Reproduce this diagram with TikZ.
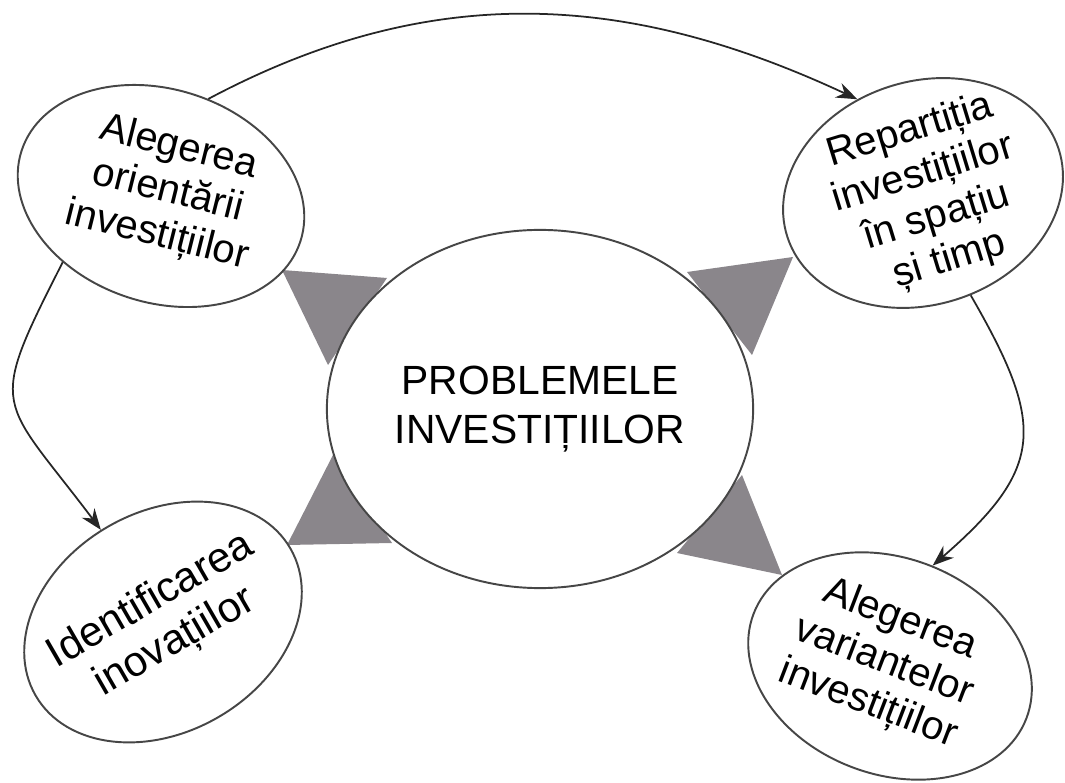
\documentclass[tikz,border=0pt]{standalone}
\usepackage{fontspec}
\setmainfont{Liberation Sans}
\usetikzlibrary{shapes.geometric, arrows.meta}
\definecolor{wedgegray}{RGB}{138,134,139}
\definecolor{rimgray}{RGB}{70,70,70}

\begin{document}
\begin{tikzpicture}[x=0.01cm, y=-0.01cm,
    bubble/.style={ellipse, draw=rimgray, line width=0.55pt, fill=white, inner sep=0pt},
    bubbletext/.style={align=center, inner sep=0pt, font=\fontsize{11.4pt}{12.8pt}\selectfont},
    link/.style={line width=0.5pt, draw=black!85, -{Stealth[length=6pt,width=4.5pt]}}]
    \useasboundingbox (0,0) rectangle (1065,783);
    % grey wedges round the centre
    \fill[wedgegray] (282,270) -- (387,278) -- (328,365) -- cycle;
    \fill[wedgegray] (687,272) -- (793,257) -- (752,355) -- cycle;
    \fill[wedgegray] (333,455) -- (287,545) -- (392,543) -- cycle;
    \fill[wedgegray] (742,475) -- (677,553) -- (782,575) -- cycle;
    % centre
    \node[bubble, minimum width=4.26cm, minimum height=3.58cm, align=center,
        font=\fontsize{11.6pt}{14pt}\selectfont] (probl) at (540,409) {PROBLEMELE\\INVESTIȚIILOR};
    % outer bubbles
    \node[bubble, rotate=-18, minimum width=2.93cm, minimum height=2.13cm] (orient) at (161,196) {};
    \node[bubbletext, rotate=-14] (orient-txt) at (168,192) {Alegerea\\orientării\\investițiilor};
    \node[bubble, rotate=18, minimum width=2.85cm, minimum height=2.23cm] (repart) at (923,193) {};
    \node[bubbletext, rotate=17] (repart-txt) at (930,196) {Repartiția\\investițiilor\\în spațiu\\și timp};
    \node[bubble, rotate=30, minimum width=2.94cm, minimum height=2.2cm] (inov) at (163,622) {};
    \node[bubbletext, rotate=30, font=\fontsize{12pt}{13.6pt}\selectfont] (inov-txt) at (163,622) {Identificarea\\inovațiilor};
    \node[bubble, rotate=-21, minimum width=2.92cm, minimum height=2.16cm] (variant) at (890,666) {};
    \node[bubbletext, rotate=-21] (variant-txt) at (884,662) {Alegerea\\variantelor\\investițiilor};
    % arrows between the bubbles
    \draw[link] (orient.82) to[out=28, in=155] (repart.107);
    \draw[link] (orient.232) to[out=243, in=127, looseness=1.6] (inov.94);
    \draw[link] (repart.277) to[out=300, in=41, looseness=1.4] (variant.88);
\end{tikzpicture}
\end{document}
